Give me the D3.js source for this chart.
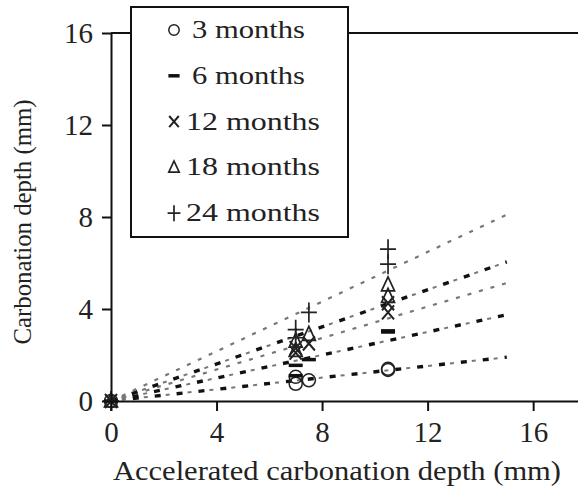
<!DOCTYPE html>
<html>
<head>
<meta charset="utf-8">
<script src="https://cdn.jsdelivr.net/npm/d3@7"></script>
<style>
  body { margin: 0; background: #fff; }
  text { font-family: "Liberation Serif", "Times New Roman", Tinos, "Nimbus Roman", serif; fill: #222; }
</style>
</head>
<body>
<div id="chart"></div>
<script>
// Values
const seriesNames = ["3 months", "6 months", "12 months", "18 months", "24 months"];
const accelDepth = [0, 7.0, 7.0, 7.5, 10.5, 10.5];
const depth3 = [0, 0.75, 1.05, 0.9, 1.4, 1.35];
const depth6 = [0, 1.1, 1.55, 1.8, 3.05, 3.0];
const depth12 = [0, 2.3, 2.1, 2.5, 3.85, 4.25];
const depth18 = [0, 2.6, 2.2, 2.9, 4.55, 5.05];
const depth24 = [0, 3.1, 2.75, 3.85, 5.95, 6.6];
const trendSlopes = [0.127, 0.25, 0.342, 0.403, 0.54];
const trendEnd = 15;
const xTicks = [0, 4, 8, 12, 16];
const yTicks = [0, 4, 8, 12, 16];

const seriesDepths = [depth3, depth6, depth12, depth18, depth24];
const symbols = ["circle", "dash", "cross", "triangle", "plus"];

const width = 578, height = 500;
const svg = d3.select("#chart").append("svg").attr("width", width).attr("height", height);

const x = d3.scaleLinear().domain([0, 17.7]).range([111, 578]);
const y = d3.scaleLinear().domain([0, 16]).range([401, 33]);

// trend lines (black dashes mixed with grey dots, as in the scan)
const line = d3.line().x(d => x(d[0])).y(d => y(d[1]));
const blackDashes = [true, true, false, true, false];
trendSlopes.forEach((s, i) => {
  const pts = [[0, 0], [trendEnd, s * trendEnd]];
  if (blackDashes[i]) {
    svg.append("path").attr("d", line(pts)).attr("fill", "none")
      .attr("stroke", "#111").attr("stroke-width", 3.4).attr("stroke-dasharray", "6,16");
    svg.append("path").attr("d", line(pts)).attr("fill", "none")
      .attr("stroke", "#777").attr("stroke-width", 2).attr("stroke-dasharray", "4,18")
      .attr("stroke-dashoffset", -11);
  } else {
    svg.append("path").attr("d", line(pts)).attr("fill", "none")
      .attr("stroke", "#777").attr("stroke-width", 2.2).attr("stroke-dasharray", "4,8");
  }
});

// markers
function drawMarker(g, kind, cx, cy, k) {
  const st = "#222";
  if (kind === "circle") {
    g.append("circle").attr("cx", cx).attr("cy", cy).attr("r", 6.5 * k)
      .attr("fill", "none").attr("stroke", st).attr("stroke-width", 1.5);
  } else if (kind === "dash") {
    g.append("line").attr("x1", cx - 7 * k).attr("x2", cx + 7 * k).attr("y1", cy).attr("y2", cy)
      .attr("stroke", "#111").attr("stroke-width", 3.5);
  } else if (kind === "cross") {
    g.append("path").attr("d", `M${cx - 6 * k},${cy - 7 * k}L${cx + 6 * k},${cy + 7 * k}M${cx + 6 * k},${cy - 7 * k}L${cx - 6 * k},${cy + 7 * k}`)
      .attr("stroke", st).attr("stroke-width", 2);
  } else if (kind === "triangle") {
    g.append("path").attr("d", `M${cx},${cy - 8 * k}L${cx + 6.5 * k},${cy + 6 * k}L${cx - 6.5 * k},${cy + 6 * k}Z`)
      .attr("fill", "none").attr("stroke", st).attr("stroke-width", 1.7);
  } else if (kind === "plus") {
    g.append("path").attr("d", `M${cx},${cy - 10 * k}V${cy + 10 * k}M${cx - 8 * k},${cy}H${cx + 8 * k}`)
      .attr("stroke", st).attr("stroke-width", 1.7);
  }
}

const marks = svg.append("g");
seriesDepths.forEach((vals, i) => {
  vals.forEach((v, j) => drawMarker(marks, symbols[i], x(accelDepth[j]), y(v), 1));
});

// axes
const xAxis = svg.append("g").attr("transform", `translate(0,${y(0)})`)
  .call(d3.axisBottom(x).tickValues(xTicks).tickSize(10).tickPadding(10).tickSizeOuter(0));
const yAxis = svg.append("g").attr("transform", `translate(${x(0)},0)`)
  .call(d3.axisLeft(y).tickValues(yTicks).tickSize(9).tickPadding(9).tickSizeOuter(0));
[xAxis, yAxis].forEach(a => {
  a.attr("font-size", 29);
  a.select(".domain").attr("stroke", "#111").attr("stroke-width", 2);
  a.selectAll(".tick line").attr("stroke", "#111").attr("stroke-width", 2);
  a.selectAll(".tick text").attr("fill", "#222");
});

// top frame line
svg.append("line").attr("x1", x(0)).attr("x2", 578).attr("y1", y(16)).attr("y2", y(16))
  .attr("stroke", "#111").attr("stroke-width", 2);

// axis titles
svg.append("text").attr("x", 337).attr("y", 480).attr("text-anchor", "middle")
  .attr("font-size", 27).attr("textLength", 448).attr("lengthAdjust", "spacingAndGlyphs")
  .text("Accelerated carbonation depth (mm)");
svg.append("text").attr("transform", "translate(31,222) rotate(-90)").attr("text-anchor", "middle")
  .attr("font-size", 26).attr("textLength", 245).attr("lengthAdjust", "spacingAndGlyphs")
  .text("Carbonation depth (mm)");

// legend
const legend = svg.append("g");
legend.append("rect").attr("x", 131).attr("y", 7).attr("width", 217).attr("height", 230)
  .attr("fill", "#fff").attr("stroke", "#111").attr("stroke-width", 2);
seriesNames.forEach((name, i) => {
  const base = 38 + i * 45.8;
  drawMarker(legend, symbols[i], 174, base - 8, 0.8);
  const two = name.length > 8;
  legend.append("text").attr("x", two ? 186 : 192).attr("y", base).attr("font-size", 26)
    .attr("textLength", two ? 134 : 113).attr("lengthAdjust", "spacingAndGlyphs").text(name);
});
</script>
</body>
</html>
